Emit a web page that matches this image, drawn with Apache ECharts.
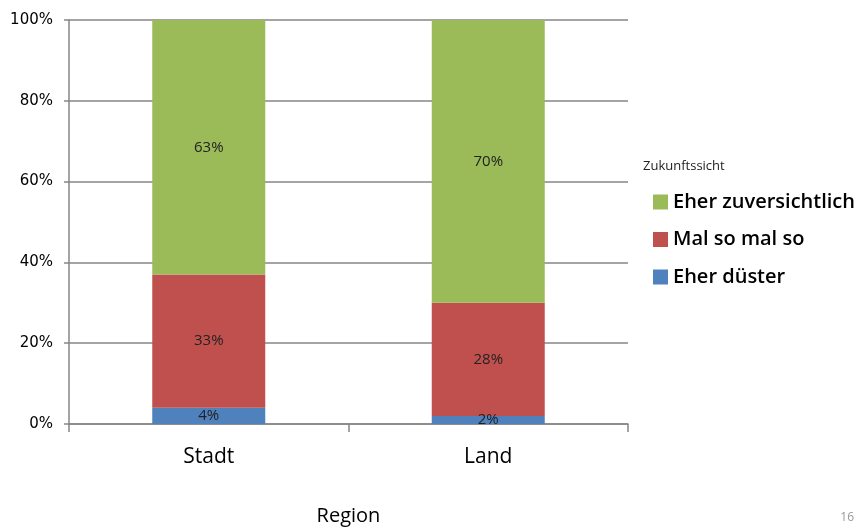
<!DOCTYPE html>
<html><head><meta charset="utf-8">
<script src="https://cdn.jsdelivr.net/npm/echarts@6/dist/echarts.min.js"></script>
<style>html,body{margin:0;padding:0;background:#fff}#c{width:860px;height:527px}</style>
</head><body><div id="c"></div>
<script>
const categories = ['Stadt', 'Land'];
const seriesNames = ['Eher düster', 'Mal so mal so', 'Eher zuversichtlich'];
const eherDuester = [4, 2];
const malSoMalSo = [33, 28];
const eherZuversichtlich = [63, 70];
const yTicks = [0, 20, 40, 60, 80, 100];
const legendTitle = 'Zukunftssicht';
const axisName = 'Region';
const pageNo = '16';

const colors = ['#4F81BD', '#C0504D', '#9BBB59'];
const values = [eherDuester, malSoMalSo, eherZuversichtlich];
const chart = echarts.init(document.getElementById('c'));
chart.setOption({
  animation: false,
  grid: { left: 69, right: 232, top: 20, bottom: 103, outerBoundsMode: 'none', containLabel: false },
  legend: {
    data: [seriesNames[2], seriesNames[1], seriesNames[0]],
    orient: 'vertical', left: 648, top: 187,
    itemWidth: 15, itemHeight: 15, itemGap: 17.5,
    icon: 'rect',
    textStyle: { fontFamily: 'Open Sans', fontSize: 20, color: '#000', fontWeight: 600 }
  },
  graphic: [
    { type: 'text', left: 643, top: 160, style: { text: legendTitle, font: '13px "Open Sans"', fill: '#222' } },
    { type: 'text', right: 6, top: 512, style: { text: pageNo, font: '12px "Open Sans"', fill: '#999' } }
  ],
  xAxis: {
    type: 'category', data: categories,
    name: axisName, nameLocation: 'middle', nameGap: 82,
    nameTextStyle: { fontFamily: 'Open Sans', fontSize: 20, color: '#000' },
    axisLine: { lineStyle: { color: '#868686', width: 1.5 } },
    axisTick: { show: true, length: 8, lineStyle: { color: '#868686', width: 1.5 } },
    axisLabel: { fontFamily: 'Open Sans', fontSize: 21, color: '#000', margin: 23 }
  },
  yAxis: {
    type: 'value', min: yTicks[0], max: yTicks[yTicks.length - 1], interval: 20,
    axisLine: { show: true, lineStyle: { color: '#868686', width: 1.5 } },
    axisTick: { show: true, length: 5, lineStyle: { color: '#868686', width: 1.5 } },
    splitLine: { lineStyle: { color: '#868686', width: 1.5 } },
    axisLabel: { formatter: '{value}%', fontFamily: 'DejaVu Sans', fontSize: 15, color: '#000', margin: 16 }
  },
  series: seriesNames.map((n, i) => ({
    name: n, type: 'bar', stack: 'a', barWidth: 113,
    data: values[i],
    itemStyle: { color: colors[i] },
    label: { show: true, position: 'inside', formatter: '{c}%', fontFamily: 'Open Sans', fontSize: 15, color: '#222' }
  }))
});
</script></body></html>
